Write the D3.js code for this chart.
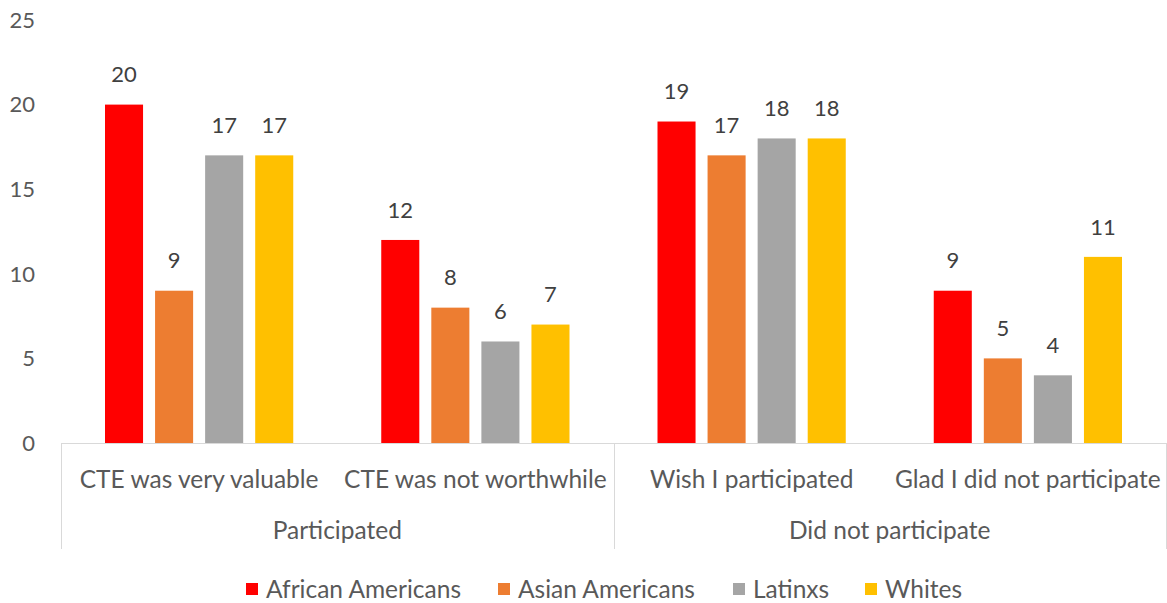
<!DOCTYPE html>
<html>
<head>
<meta charset="utf-8">
<script src="https://cdn.jsdelivr.net/npm/d3@7"></script>
<style>
  body { margin: 0; background: #fff; }
  text { font-family: Lato, "Open Sans", sans-serif; }
</style>
</head>
<body>
<svg id="chart" width="1167" height="603"></svg>
<script>
const groups = ["Participated", "Did not participate"];
const categories = ["CTE was very valuable", "CTE was not worthwhile", "Wish I participated", "Glad I did not participate"];
const categoryGroup = ["Participated", "Participated", "Did not participate", "Did not participate"];
const seriesNames = ["African Americans", "Asian Americans", "Latinxs", "Whites"];
const seriesColors = ["#ff0000", "#ed7d31", "#a5a5a5", "#ffc000"];
const africanAmericans = [20, 12, 19, 9];
const asianAmericans = [9, 8, 17, 5];
const latinxs = [17, 6, 18, 4];
const whites = [17, 7, 18, 11];
const yTicks = [0, 5, 10, 15, 20, 25];

const series = [africanAmericans, asianAmericans, latinxs, whites];

const svg = d3.select("#chart");
const margin = { top: 20, right: 0, bottom: 160, left: 61 };
const width = 1167 - margin.left - margin.right - 1;
const height = 603 - margin.top - margin.bottom;

const g = svg.append("g").attr("transform", "translate(" + margin.left + "," + margin.top + ")");

const x0 = d3.scaleBand().domain(categories).range([0, width]).paddingInner(0).paddingOuter(0);
const x1 = d3.scaleBand().domain(seriesNames).range([44, x0.bandwidth() - 44]).paddingInner(0.24).paddingOuter(0);
const y = d3.scaleLinear().domain([0, 25]).range([height, 0]);

// y tick labels (no axis line, no gridlines)
g.append("g")
  .selectAll("text")
  .data(yTicks)
  .enter()
  .append("text")
  .attr("x", -26)
  .attr("y", (d) => y(d))
  .attr("dy", ".35em")
  .style("text-anchor", "end")
  .style("font-size", "22px")
  .style("fill", "#595959")
  .text((d) => d);

// bars
const cat = g.selectAll(".cat").data(categories).enter().append("g")
  .attr("class", "cat")
  .attr("transform", (d) => "translate(" + x0(d) + ",0)");

seriesNames.forEach((name, si) => {
  cat.append("rect")
    .attr("x", x1(name))
    .attr("y", (d, i) => y(series[si][i]))
    .attr("width", x1.bandwidth())
    .attr("height", (d, i) => height - y(series[si][i]))
    .style("fill", seriesColors[si]);

  cat.append("text")
    .attr("x", x1(name) + x1.bandwidth() / 2)
    .attr("y", (d, i) => y(series[si][i]) - 30)
    .attr("dy", ".35em")
    .style("text-anchor", "middle")
    .style("font-size", "22px")
    .style("fill", "#404040")
    .text((d, i) => series[si][i]);
});

// category axis
const axisColor = "#d9d9d9";
g.append("line")
  .attr("x1", 0).attr("x2", width)
  .attr("y1", height + 0.5).attr("y2", height + 0.5)
  .style("stroke", axisColor);

g.selectAll(".catLabel").data(categories).enter().append("text")
  .attr("x", (d) => x0(d) + x0.bandwidth() / 2)
  .attr("y", height + 36)
  .attr("dy", ".35em")
  .style("text-anchor", "middle")
  .style("font-size", "24.5px")
  .style("fill", "#595959")
  .text((d) => d);

// group separators + labels
const groupBounds = groups.map((grp) => {
  const cats = categories.filter((c, i) => categoryGroup[i] === grp);
  const start = x0(cats[0]);
  const end = x0(cats[cats.length - 1]) + x0.bandwidth();
  return { name: grp, start, end };
});

const sepX = [0].concat(groupBounds.map((b) => b.end));
g.selectAll(".sep").data(sepX).enter().append("line")
  .attr("x1", (d) => Math.round(d) + 0.5).attr("x2", (d) => Math.round(d) + 0.5)
  .attr("y1", height).attr("y2", height + 106)
  .style("stroke", axisColor);

g.selectAll(".grpLabel").data(groupBounds).enter().append("text")
  .attr("x", (d) => (d.start + d.end) / 2)
  .attr("y", height + 87)
  .attr("dy", ".35em")
  .style("text-anchor", "middle")
  .style("font-size", "24.5px")
  .style("fill", "#595959")
  .text((d) => d.name);

// legend
const legend = svg.append("g").attr("class", "legend");
const legendX = [246, 498, 733, 865];
const legendEntries = legend.selectAll(".legendEntry").data(seriesNames).enter().append("g")
  .attr("class", "legendEntry")
  .attr("transform", (d, i) => "translate(" + legendX[i] + ",589)");

legendEntries.append("rect")
  .attr("x", 0).attr("y", -6)
  .attr("width", 12).attr("height", 12)
  .style("fill", (d, i) => seriesColors[i]);

legendEntries.append("text")
  .attr("x", 20)
  .attr("dy", ".35em")
  .style("text-anchor", "start")
  .style("font-size", "24.5px")
  .style("fill", "#595959")
  .text((d) => d);
</script>
</body>
</html>
